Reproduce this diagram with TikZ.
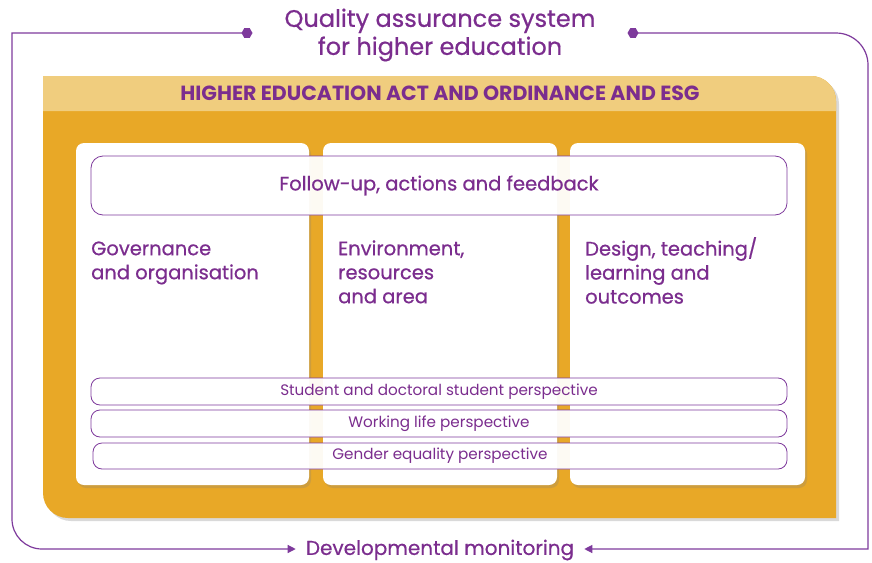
\documentclass[tikz,border=0pt]{standalone}
\usepackage{fontspec}
\setmainfont{Poppins}
\newfontfamily\medfont{Poppins}[FakeBold=0.6]
\usetikzlibrary{shapes.geometric,arrows.meta,shadows}
\definecolor{qpurple}{HTML}{7B2D8E}
\definecolor{qline}{HTML}{7E3A9C}
\definecolor{qorange}{HTML}{E8A827}
\definecolor{qlight}{HTML}{F0CD7E}
\newcommand{\toprule}{\rule{0pt}{18pt}}
\tikzset{
  hexmark/.style={regular polygon,regular polygon sides=6,fill=qline,inner sep=0pt,minimum size=11pt},
  loopline/.style={draw=qline,line width=1.2pt},
  colbox/.style={fill=white,rounded corners=8pt,drop shadow={shadow xshift=2pt,shadow yshift=-3pt,opacity=0.25}},
  band/.style={draw=qline,line width=0.8pt,fill=white,fill opacity=0.95,text opacity=1,rounded corners=9pt},
  headtxt/.style={text=qpurple,font=\medfont\fontsize{19.5}{24}\selectfont,align=left,anchor=north west,inner sep=0pt},
  bandtxt/.style={text=qpurple,font=\fontsize{15.2}{17}\selectfont,inner sep=0pt},
}
\begin{document}
\begin{tikzpicture}[x=1pt,y=1pt]
\useasboundingbox (0,0) rectangle (872,-562);
% outer orange box
\path[fill=qorange,drop shadow={shadow xshift=3pt,shadow yshift=-3pt,opacity=0.3}]
  (43,-76) -- (811,-76) arc[start angle=90,end angle=0,radius=25] -- (836,-518) -- (68,-518) arc[start angle=270,end angle=180,radius=25] -- cycle;
\path[fill=qlight] (43,-111) -- (43,-76) -- (811,-76) arc[start angle=90,end angle=0,radius=25] -- (836,-111) -- cycle;
\node[text=qpurple,font=\fontsize{20.5}{24}\bfseries\selectfont,inner sep=0pt] (act) at (440,-93) {HIGHER EDUCATION ACT AND ORDINANCE AND ESG};
% columns
\path[colbox] (76,-143) rectangle (309,-485);
\path[colbox] (323,-143) rectangle (557,-485);
\path[colbox] (570,-143) rectangle (805,-485);
% follow-up
\node[band,rounded corners=12pt,minimum width=696pt,minimum height=59pt,inner sep=0pt,text=qpurple,font=\medfont\fontsize{19.5}{22}\selectfont] (fup) at (439,-185.5) {Follow-up, actions and feedback};
% column headings
\node[headtxt] (gov) at (91,-237) {\toprule Governance\\and organisation};
\node[headtxt] (env) at (338,-237) {\toprule Environment,\\resources\\and area};
\node[headtxt] (des) at (585,-237) {\toprule Design, teaching/\\learning and\\outcomes};
% bands
\node[band,minimum width=696pt,minimum height=27pt,inner sep=0pt,bandtxt] (stu) at (439,-391.5) {Student and doctoral student perspective};
\node[band,minimum width=696pt,minimum height=27pt,inner sep=0pt,bandtxt] (wrk) at (439,-423.5) {Working life perspective};
\node[band,minimum width=694pt,minimum height=26pt,inner sep=0pt,bandtxt] (gen) at (440,-456) {Gender equality perspective};
% title and bottom text
\node[text=qpurple,font=\medfont\fontsize{24}{28}\selectfont,align=center,inner sep=0pt] (title) at (440,-35) {Quality assurance system\\for higher education};
\node[text=qpurple,font=\medfont\fontsize{20}{22}\selectfont,inner sep=0pt] (dev) at (440,-550) {Developmental monitoring};
% loop
\node[hexmark] (hl) at (247,-33) {};
\node[hexmark] (hr) at (633,-33) {};
\coordinate (tl) at (12,-33);
\coordinate (bl) at (12,-549);
\coordinate (tr) at (868,-33);
\coordinate (br) at (868,-549);
\draw[loopline,-{Triangle[length=8pt,width=8pt]}] (hl.center) -- (tl) -- ([yshift=40pt]bl) [rounded corners=30pt] -- (bl) -- ([xshift=-10pt]dev.west |- bl);
\draw[loopline,-{Triangle[length=8pt,width=8pt]}] (hr.center) [rounded corners=32pt] -- (tr) [sharp corners] -- ([yshift=-40pt]tr) -- (br) -- ([xshift=10pt]dev.east |- br);
\end{tikzpicture}
\end{document}
